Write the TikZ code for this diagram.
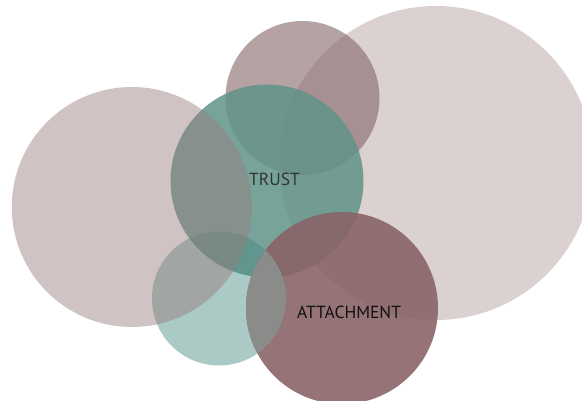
\documentclass[tikz,border=0pt]{standalone}
\usepackage{fontspec}
\setmainfont{PT Sans}
\definecolor{cRight}{RGB}{219,209,209}
\definecolor{cTop}{RGB}{132,102,103}
\definecolor{cTrust}{RGB}{96,147,136}
\definecolor{cAtt}{RGB}{137,100,103}
\definecolor{cSmall}{RGB}{69,135,127}
\definecolor{cLeft}{RGB}{151,122,124}
\definecolor{cGray}{RGB}{137,140,136}
\definecolor{cTextA}{RGB}{47,52,50}
\definecolor{cTextB}{RGB}{17,17,17}
\tikzset{
  bubble/.style={circle, draw=none, inner sep=0pt, outer sep=0pt},
  label text/.style={font=\fontsize{17.5}{20}\selectfont, inner sep=0pt}
}
\begin{document}
\begin{tikzpicture}[x=1pt,y=-1pt]
\useasboundingbox (0,0) rectangle (582,401);
\begin{scope}
\clip (0,0) rectangle (582,401);
\node[bubble, fill=cRight, minimum size=314pt] (right) at (436,163) {};
\node[bubble, fill=cTop, fill opacity=0.6, minimum size=154pt] (top) at (302.5,98) {};
\node[bubble, fill=cTrust, fill opacity=0.85, minimum size=193pt] (trustc) at (267,181) {};
\node[bubble, fill=cAtt, fill opacity=0.9, minimum size=192pt] (attc) at (342,308) {};
\node[bubble, fill=cSmall, fill opacity=0.45, minimum size=134pt] (small) at (219,298.5) {};
\begin{scope}
\clip (219,298.5) circle[radius=67pt];
\fill[cGray] (342,308) circle[radius=96pt];
\end{scope}
\node[bubble, fill=cLeft, fill opacity=0.45, minimum size=240pt] (left) at (131.8,207) {};
\end{scope}
\node[label text, text=cTextA] (trust) at (274.5,179) {TRUST};
\node[label text, text=cTextB] (attach) at (349,312) {ATTACHMENT};
\end{tikzpicture}
\end{document}
